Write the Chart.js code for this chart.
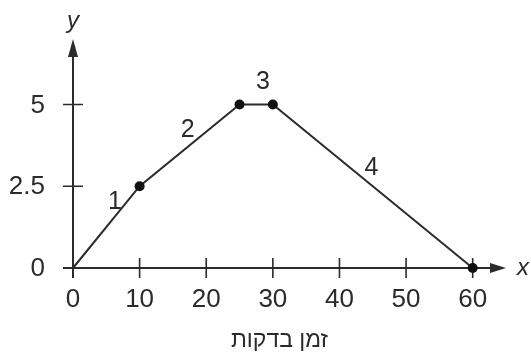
<!DOCTYPE html>
<html>
<head>
<meta charset="utf-8">
<script src="https://cdn.jsdelivr.net/npm/chart.js@4"></script>
<style>
  html, body { margin: 0; padding: 0; background: #fff; }
  #wrap { width: 531px; height: 358px; position: relative; }
</style>
</head>
<body>
<div id="wrap"><canvas id="chart"></canvas></div>
<script>
// ─── Data ─────────────────────────────────────────────────
const timeMinutes = [0, 10, 25, 30, 60];
const yValues = [0, 2.5, 5, 5, 0];
const xTicks = [0, 10, 20, 30, 40, 50, 60];
const yTicks = [0, 2.5, 5];
const yTickLabels = ['0', '2.5', '5'];
const segmentNames = ['1', '2', '3', '4'];
const segmentLabelX = [6.3, 17.2, 28.5, 44.8];
const segmentLabelY = [2.0, 4.2, 5.67, 3.05];
const xTitle = 'זמן בדקות';

const INK = '#2b2b2b';
const FONT = '"Liberation Sans", Arial, sans-serif';

// axes, ticks, arrows and texts drawn from the chart's own scales
const axesPlugin = {
  id: 'axes',
  beforeDatasetsDraw(chart) {
    const { ctx, scales: { x, y }, chartArea } = chart;
    const x0 = x.getPixelForValue(0);
    const y0 = y.getPixelForValue(0);
    ctx.save();
    ctx.strokeStyle = INK;
    ctx.fillStyle = INK;
    ctx.lineWidth = 2;

    // axis lines
    ctx.beginPath();
    ctx.moveTo(x0 - 10, y0);
    ctx.lineTo(chartArea.right - 12, y0);
    ctx.moveTo(x0, y0 + 10);
    ctx.lineTo(x0, chartArea.top + 14);
    ctx.stroke();

    // arrowheads
    ctx.beginPath();
    ctx.moveTo(chartArea.right, y0);
    ctx.lineTo(chartArea.right - 16, y0 - 5);
    ctx.lineTo(chartArea.right - 16, y0 + 5);
    ctx.closePath();
    ctx.fill();
    ctx.beginPath();
    ctx.moveTo(x0, chartArea.top);
    ctx.lineTo(x0 - 5, chartArea.top + 18);
    ctx.lineTo(x0 + 5, chartArea.top + 18);
    ctx.closePath();
    ctx.fill();

    // tick marks
    ctx.lineWidth = 1.6;
    ctx.beginPath();
    xTicks.forEach(v => {
      if (v === 0) return;
      const px = x.getPixelForValue(v);
      ctx.moveTo(px, y0 - 10);
      ctx.lineTo(px, y0 + 10);
    });
    yTicks.forEach(v => {
      if (v === 0) return;
      const py = y.getPixelForValue(v);
      ctx.moveTo(x0 - 10, py);
      ctx.lineTo(x0 + 10, py);
    });
    ctx.stroke();

    // tick labels
    ctx.font = `26px ${FONT}`;
    ctx.textAlign = 'center';
    ctx.textBaseline = 'middle';
    xTicks.forEach(v => {
      ctx.fillText(String(v), x.getPixelForValue(v), y0 + 32);
    });
    ctx.textAlign = 'right';
    yTicks.forEach((v, i) => {
      ctx.fillText(yTickLabels[i], x0 - 28, y.getPixelForValue(v) + 1);
    });

    // segment numbers
    ctx.font = `25px ${FONT}`;
    ctx.textAlign = 'center';
    segmentNames.forEach((name, i) => {
      ctx.fillText(name, x.getPixelForValue(segmentLabelX[i]), y.getPixelForValue(segmentLabelY[i]));
    });

    // axis names
    ctx.font = `italic 24px ${FONT}`;
    ctx.fillText('x', chartArea.right + 17, y0);
    ctx.fillText('y', x0, chartArea.top - 18);

    // x title
    ctx.font = `23px ${FONT}`;
    ctx.fillText(xTitle, x.getPixelForValue(31), y0 + 73);
    ctx.restore();
  }
};

new Chart(document.getElementById('chart'), {
  type: 'scatter',
  data: {
    datasets: [{
      data: timeMinutes.map((t, i) => ({ x: t, y: yValues[i] })),
      showLine: true,
      clip: false,
      borderColor: INK,
      borderWidth: 2,
      pointRadius: ctx => (ctx.dataIndex === 0 ? 0 : 5),
      pointBackgroundColor: '#111',
      pointBorderColor: '#111',
      pointBorderWidth: 0,
    }],
  },
  options: {
    responsive: true,
    maintainAspectRatio: false,
    animation: false,
    layout: { padding: { left: 73, right: 25, top: 39, bottom: 90 } },
    plugins: {
      legend: { display: false },
      tooltip: { enabled: false },
    },
    scales: {
      x: { type: 'linear', display: false, min: 0, max: 65 },
      y: { type: 'linear', display: false, min: 0, max: 7 },
    },
  },
  plugins: [axesPlugin],
});
</script>
</body>
</html>
